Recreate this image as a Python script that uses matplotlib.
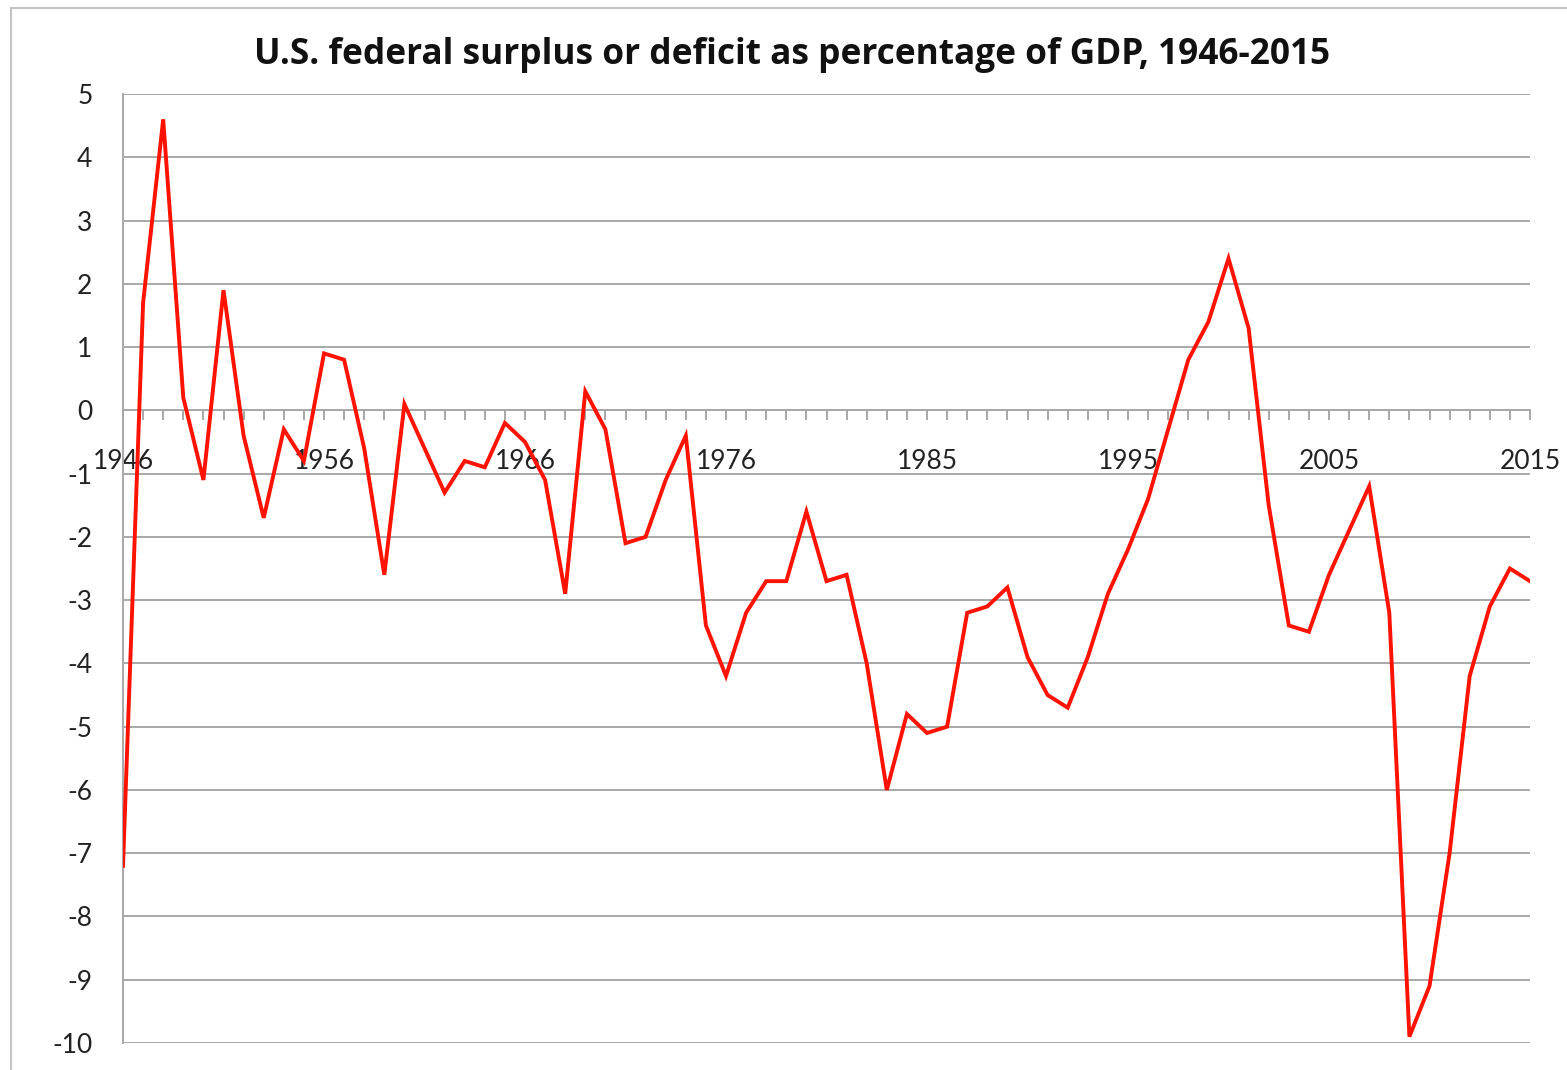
import matplotlib
matplotlib.use("Agg")
import matplotlib.pyplot as plt
from matplotlib.lines import Line2D

plt.rcParams['font.family'] = ['Lato', 'DejaVu Sans']

# categories: fiscal years, with the 1976 transition quarter as its own point
years = [str(y) for y in range(1946, 1977)] + ["TQ"] + [str(y) for y in range(1977, 2016)]
surplus = [
    -7.2, 1.7, 4.6, 0.2, -1.1, 1.9, -0.4, -1.7, -0.3, -0.8,
    0.9, 0.8, -0.6, -2.6, 0.1, -0.6, -1.3, -0.8, -0.9, -0.2,
    -0.5, -1.1, -2.9, 0.3, -0.3, -2.1, -2.0, -1.1, -0.4, -3.4,
    -4.2, -3.2, -2.7, -2.7, -1.6, -2.7, -2.6, -4.0, -6.0, -4.8,
    -5.1, -5.0, -3.2, -3.1, -2.8, -3.9, -4.5, -4.7, -3.9, -2.9,
    -2.2, -1.4, -0.3, 0.8, 1.4, 2.4, 1.3, -1.5, -3.4, -3.5,
    -2.6, -1.9, -1.2, -3.2, -9.9, -9.1, -7.0, -4.2, -3.1, -2.5,
    -2.7,
]
label_every = 10
y_ticks = list(range(-10, 6))

W, H = 1567, 1070
fig = plt.figure(figsize=(W / 100, H / 100), dpi=100, facecolor='white')
ax = fig.add_axes([123 / W, 1 - 1043 / H, (1530 - 123) / W, (1043 - 94) / H])

x = list(range(len(years)))
ax.plot(x, surplus, color='#ff1200', lw=2.8, solid_joinstyle='miter', zorder=3)

ax.set_xlim(0, len(years) - 1)
ax.set_ylim(-10, 5)
ax.set_yticks(y_ticks)
ax.set_yticklabels([str(v) for v in y_ticks])
ax.yaxis.grid(True, color='#a8a8a8', lw=1.4)
ax.set_axisbelow(True)

ax.set_xticks(x[::label_every])
ax.set_xticklabels(years[::label_every])
ax.set_xticks(x, minor=True)

for s in ['top', 'right']:
    ax.spines[s].set_visible(False)
ax.spines['bottom'].set_position(('data', 0))
ax.spines['bottom'].set_color('#a8a8a8')
ax.spines['bottom'].set_linewidth(1.4)
ax.spines['left'].set_color('#a8a8a8')
ax.spines['left'].set_linewidth(1.4)

ax.tick_params(axis='y', length=0, pad=22, labelsize=19, labelcolor='#222222')
ax.tick_params(axis='x', which='both', direction='out', length=7, width=1.4,
               color='#a8a8a8')
ax.tick_params(axis='x', which='major', pad=21, labelsize=19, labelcolor='#222222')

fig.text(792 / W, 1 - 55 / H, "U.S. federal surplus or deficit as percentage of GDP, 1946-2015",
         ha='center', va='center', fontsize=25.4, fontweight='bold', color='#111111',
         family=['Open Sans', 'DejaVu Sans'])

# chart frame (cut off at the right and bottom edges)
fig.add_artist(Line2D([11 / W, 11 / W], [1 - 8 / H, -0.01], transform=fig.transFigure,
                      color='#c4c4c4', lw=1.5))
fig.add_artist(Line2D([11 / W, 1.01], [1 - 8 / H, 1 - 8 / H], transform=fig.transFigure,
                      color='#c4c4c4', lw=1.5))

fig.savefig("out.png", dpi=100, facecolor='white')
